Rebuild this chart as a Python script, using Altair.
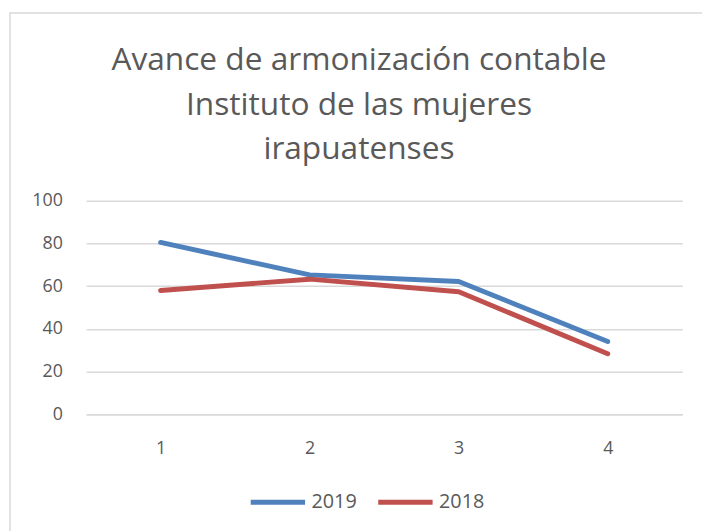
import altair as alt
import pandas as pd

categories = ["1", "2", "3", "4"]
series_2019 = [80.5, 65.3, 62.2, 34.1]
series_2018 = [58.0, 63.3, 57.4, 28.4]
series_names = ["2019", "2018"]
colors = ["#4F81BD", "#C0504D"]
title_lines = ["Avance de armonización contable", "Instituto de las mujeres", "irapuatenses"]

rows = []
for name, vals in zip(series_names, [series_2019, series_2018]):
    for c, v in zip(categories, vals):
        rows.append({"cat": c, "value": v, "serie": name})
df = pd.DataFrame(rows)

FONT = "Open Sans"
GREY = "#595959"

lines = alt.Chart(df).mark_line(strokeWidth=5, strokeCap="round", strokeJoin="round").encode(
    x=alt.X("cat:O", sort=categories, scale=alt.Scale(type="point", padding=0.5),
            axis=alt.Axis(title=None, labelAngle=0, ticks=False, domainColor="#d9d9d9",
                          domainWidth=1.5, labelPadding=26, labelFontSize=18,
                          labelColor=GREY, labelFont=FONT, grid=False)),
    y=alt.Y("value:Q", scale=alt.Scale(domain=[0, 100]),
            axis=alt.Axis(title=None, values=[0, 20, 40, 60, 80, 100], ticks=False, domain=False,
                          gridColor="#d9d9d9", gridWidth=1.5, labelPadding=24, labelFontSize=18,
                          labelColor=GREY, labelFont=FONT)),
    color=alt.Color("serie:N", sort=series_names,
                    scale=alt.Scale(domain=series_names, range=colors),
                    legend=alt.Legend(title=None, orient="none", direction="horizontal",
                                      legendX=164, legendY=275, symbolType="stroke",
                                      symbolSize=3025, symbolStrokeWidth=5,
                                      labelFontSize=20, labelColor=GREY, labelFont=FONT,
                                      labelOffset=4, columnPadding=11)),
)

border = alt.Chart(pd.DataFrame({"a": [0]})).mark_rect(
    fill=None, stroke="#d9d9d9", strokeWidth=1.5).encode(
    x=alt.value(-77), x2=alt.value(640), y=alt.value(-190), y2=alt.value(340)
)

title = alt.Chart(pd.DataFrame({"a": [0]})).mark_text(
    font=FONT, fontSize=32, fontWeight=400, color=GREY, align="center",
    baseline="alphabetic", lineHeight=45).encode(
    x=alt.value(276), y=alt.value(-132), text=alt.value(title_lines)
)

chart = alt.layer(border, title, lines).properties(
    width=603, height=216,
    autosize=alt.AutoSizeParams(type="none"),
    padding={"left": 79, "top": 192, "right": 20, "bottom": 115},
).configure_view(stroke=None)

chart.save("out.html", embed_options={"renderer": "svg", "actions": False})
